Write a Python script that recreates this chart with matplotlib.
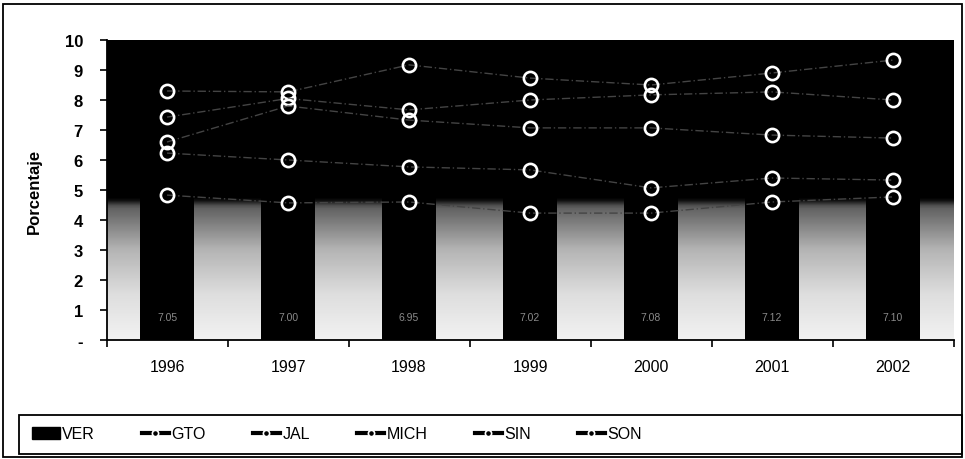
import numpy as np
import matplotlib
matplotlib.use('Agg')
import matplotlib.pyplot as plt
from matplotlib.lines import Line2D
from matplotlib.patches import Patch, Rectangle
from matplotlib.colors import LinearSegmentedColormap

plt.rcParams['font.family'] = ['Liberation Sans', 'DejaVu Sans']

years = ['1996', '1997', '1998', '1999', '2000', '2001', '2002']
ver = [7.05, 7.00, 6.95, 7.02, 7.08, 7.12, 7.10]
gto = [8.30, 8.27, 9.17, 8.73, 8.50, 8.90, 9.33]
jal = [7.43, 8.05, 7.67, 8.00, 8.17, 8.27, 8.00]
mich = [6.60, 7.80, 7.33, 7.07, 7.07, 6.83, 6.73]
sin = [6.23, 6.00, 5.77, 5.67, 5.07, 5.40, 5.33]
son = [4.83, 4.57, 4.60, 4.23, 4.23, 4.60, 4.77]
lines = {'GTO': gto, 'JAL': jal, 'MICH': mich, 'SIN': sin, 'SON': son}

fig = plt.figure(figsize=(9.65, 4.6), dpi=100)
ax = fig.add_axes([0.1104, 0.2587, 0.8777, 0.6522])
x = np.arange(len(years))

# plot area background: dark on top, fading to light at the bottom
cmap = LinearSegmentedColormap.from_list(
    'bg', [(0, '#f2f2f2'), (0.15, '#dedede'), (0.30, '#b4b4b4'),
           (0.44, '#606060'), (0.47, '#000000'), (1, '#000000')])
grad = np.linspace(1, 0, 300).reshape(-1, 1)
ax.imshow(grad, cmap=cmap, aspect='auto', extent=[-0.5, len(years) - 0.5, 0, 10],
          zorder=0, vmin=0, vmax=1)

ax.bar(x, ver, width=0.44, color='black', zorder=2)
for xi, v in zip(x, ver):
    ax.text(xi, 0.75, f'{v:.2f}', ha='center', va='center', fontsize=7.5,
            color='#8a8a8a', zorder=3)

for name, vals in lines.items():
    ax.plot(x, vals, color='#444444', lw=1.0, ls=(0, (6, 2, 1, 2)), marker='o', ms=9.5,
            mfc='none', mec='white', mew=1.9, zorder=4)

ax.set_xlim(-0.5, len(years) - 0.5)
ax.set_ylim(0, 10)
ax.set_yticks(range(0, 11))
ax.set_yticklabels(['-'] + [str(i) for i in range(1, 11)], fontsize=12, fontweight='bold')
ax.set_xticks(np.arange(-0.5, len(years), 1))
ax.set_xticklabels([])
ax.set_xticks(x, minor=True)
ax.set_xticklabels(years, minor=True, fontsize=11.5)
ax.tick_params(axis='x', which='minor', length=0, pad=14)
ax.tick_params(axis='x', which='major', length=5, width=1.2, direction='out')
ax.tick_params(axis='y', length=5, width=1.2, pad=12, direction='out')
for s in ['top', 'right']:
    ax.spines[s].set_visible(False)
for s in ['left', 'bottom']:
    ax.spines[s].set_linewidth(1.3)
ax.set_ylabel('Porcentaje', fontsize=12, fontweight='bold', labelpad=16)

handles = [Patch(facecolor='black', edgecolor='black')]
for name in lines:
    handles.append(Line2D([], [], color='black', lw=3, marker='o', ms=4.5,
                          mfc='black', mec='white', mew=1.2))
fig.legend(handles, ['VER'] + list(lines.keys()), ncol=6, loc='center left',
           bbox_to_anchor=(18 / 965, 1 - 435 / 460), frameon=False, fontsize=11.5,
           handlelength=1.7, handletextpad=0.15, columnspacing=2.95)

fig.patches.append(Rectangle((19 / 965, 1 - 455 / 460), 943 / 965, 39 / 460,
                             fill=False, lw=1.3, ec='black', transform=fig.transFigure))
fig.patches.append(Rectangle((3 / 965, 1 - 458 / 460), 959 / 965, 453 / 460,
                             fill=False, lw=1.3, ec='black', transform=fig.transFigure))

fig.savefig('out.png', dpi=100)
